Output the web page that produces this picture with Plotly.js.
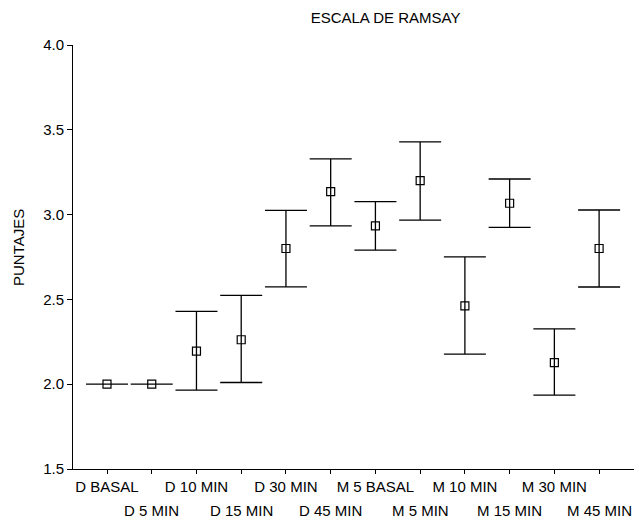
<!DOCTYPE html>
<html>
<head>
<meta charset="utf-8">
<script src="https://cdn.plot.ly/plotly-3.0.1.min.js"></script>
<style>html,body{margin:0;padding:0;background:#fff;}#chart{width:639px;height:523px;}</style>
</head>
<body>
<div id="chart"></div>
<script>
var categories = ["D BASAL", "D 5 MIN", "D 10 MIN", "D 15 MIN", "D 30 MIN", "D 45 MIN",
                  "M 5 BASAL", "M 5 MIN", "M 10 MIN", "M 15 MIN", "M 30 MIN", "M 45 MIN"];
var means = [2.00, 2.00, 2.195, 2.262, 2.80, 3.135, 2.933, 3.200, 2.462, 3.067, 2.127, 2.80];
var upper = [2.00, 2.00, 2.429, 2.524, 3.025, 3.328, 3.076, 3.429, 2.751, 3.210, 2.326, 3.027];
var lower = [2.00, 2.00, 1.965, 2.010, 2.574, 2.933, 2.791, 2.968, 2.177, 2.925, 1.935, 2.573];
var yTicks = [1.5, 2.0, 2.5, 3.0, 3.5, 4.0];

var plus = means.map(function (m, i) { return upper[i] - m; });
var minus = means.map(function (m, i) { return m - lower[i]; });

var FONT = "Liberation Sans, Arial, sans-serif";
var FS = 15;
var xr = [-0.76, 11.78];

var trace = {
  type: "scatter",
  mode: "markers",
  x: categories,
  y: means,
  marker: { symbol: "square-open", size: 8, color: "#000", line: { color: "#000", width: 1.2 } },
  error_y: { type: "data", symmetric: false, array: plus, arrayminus: minus,
             color: "#000", thickness: 1.3, width: 21 },
  showlegend: false,
  hoverinfo: "x+y"
};

// second row of category labels (odd categories), staggered below the first row
var rowTwo = categories.filter(function (c, i) { return i % 2 === 1; }).map(function (c) {
  return {
    text: c, xref: "x", yref: "paper", x: c, y: (469 - 510) / 424,
    xanchor: "center", yanchor: "middle", showarrow: false,
    font: { family: FONT, size: FS, color: "#000" }
  };
});

var layout = {
  width: 639, height: 523,
  margin: { l: 73, r: 5, t: 45, b: 54 },
  paper_bgcolor: "#fff", plot_bgcolor: "#fff",
  font: { family: FONT, size: FS, color: "#000" },
  title: { text: "ESCALA DE RAMSAY", font: { family: FONT, size: FS, color: "#000" },
           x: 356 / 639, xanchor: "center", xref: "paper", y: 1 - 18 / 523, yanchor: "middle", yref: "container" },
  xaxis: {
    type: "category", categoryorder: "array", categoryarray: categories,
    range: xr, showgrid: false, zeroline: false,
    showline: true, linecolor: "#000", linewidth: 1,
    ticks: "outside", ticklen: 4, tickcolor: "#000", tickwidth: 1,
    tickmode: "array", tickvals: categories,
    ticktext: categories.map(function (c, i) { return i % 2 === 0 ? c : ""; }),
    tickfont: { family: FONT, size: FS, color: "#000" },
    fixedrange: true
  },
  yaxis: {
    range: [1.5, 4.0], showgrid: false, zeroline: false,
    showline: true, linecolor: "#000", linewidth: 1,
    ticks: "outside", ticklen: 5, tickcolor: "#000", tickwidth: 1,
    tickmode: "array", tickvals: yTicks,
    ticktext: yTicks.map(function (v) { return v.toFixed(1); }),
    tickfont: { family: FONT, size: FS, color: "#000" },
    fixedrange: true
  },
  annotations: [{
    text: "PUNTAJES", xref: "paper", yref: "paper",
    x: (18.5 - 73) / 561, y: (469 - 247.5) / 424,
    xanchor: "center", yanchor: "middle", textangle: -90, showarrow: false,
    font: { family: FONT, size: FS, color: "#000" }
  }].concat(rowTwo)
};

Plotly.newPlot("chart", [trace], layout, { displayModeBar: false, staticPlot: true });
</script>
</body>
</html>
